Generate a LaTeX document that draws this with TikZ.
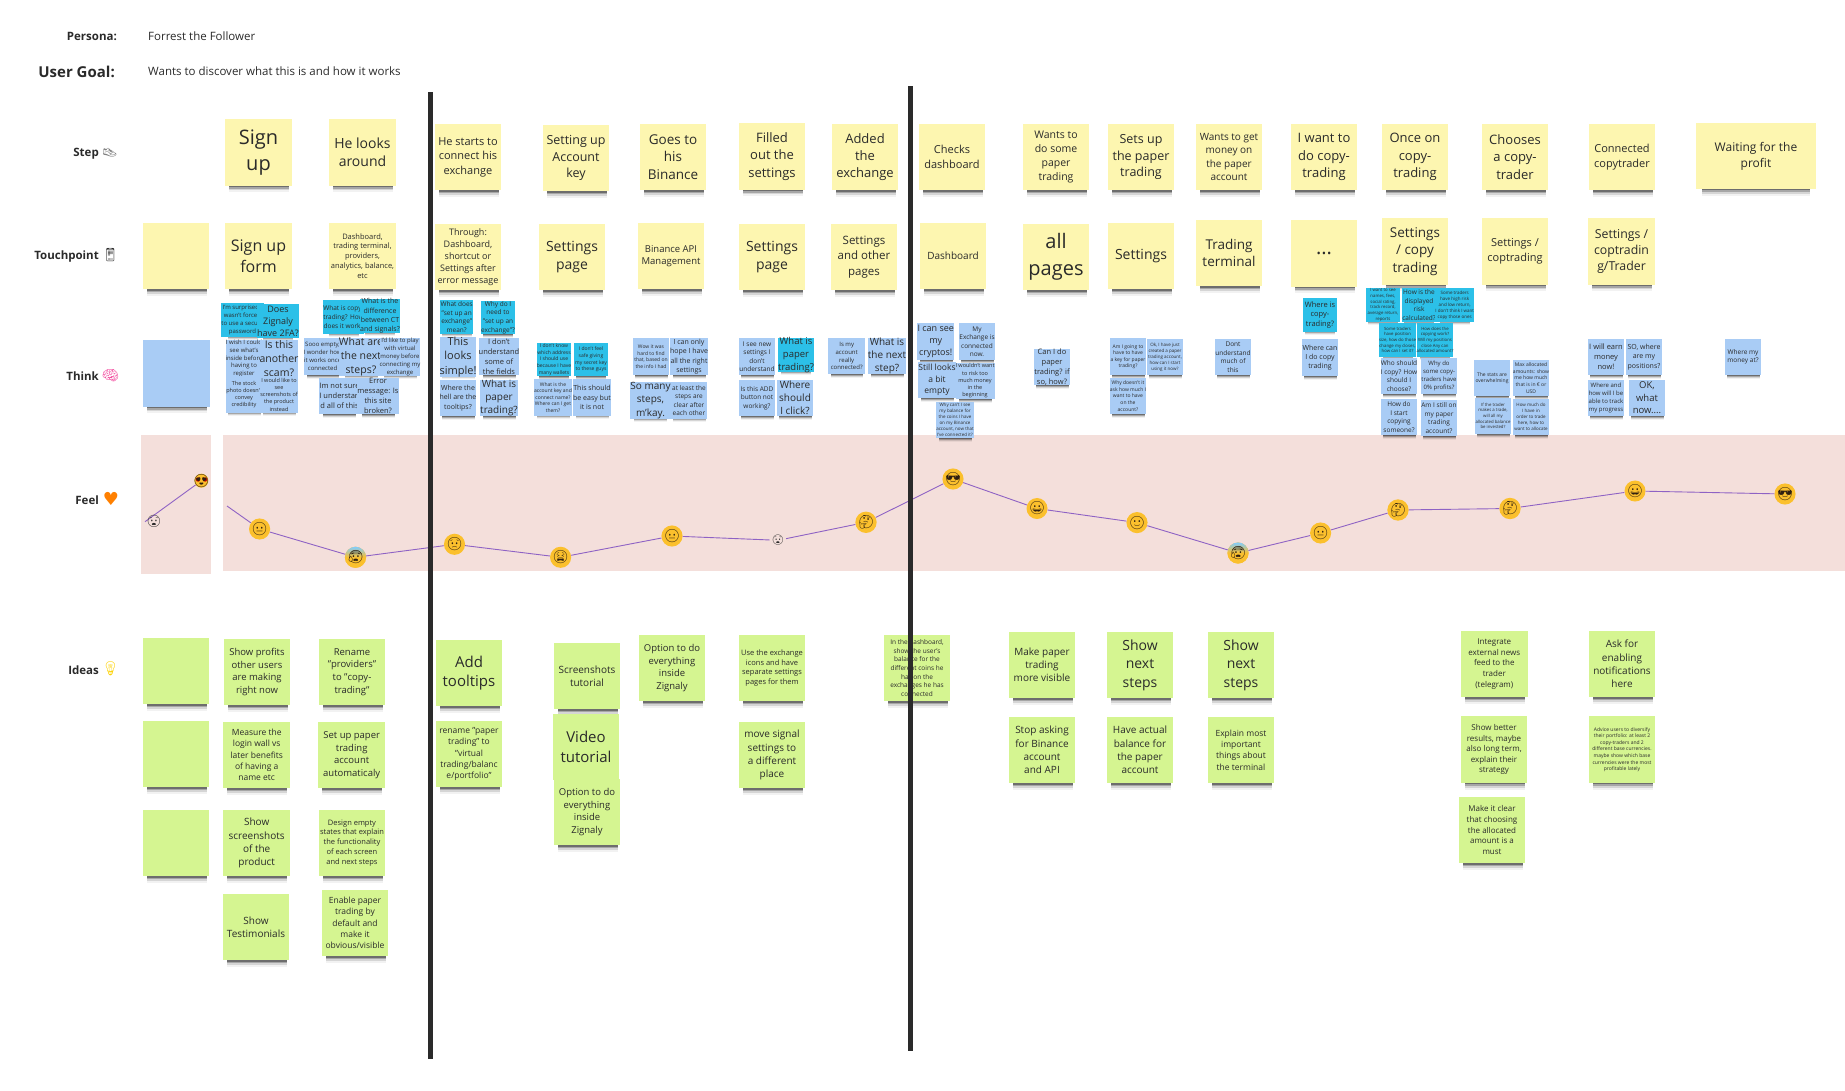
\documentclass[tikz,border=0pt]{standalone}
\usepackage{fontspec}
\setmainfont{Open Sans}
\newfontfamily\emojifont{Noto Emoji}
\newfontfamily\symfont{DejaVu Sans}
\definecolor{yel}{HTML}{FDF6B0}
\definecolor{blu}{HTML}{A9CCF5}
\definecolor{cya}{HTML}{2CC0E8}
\definecolor{lim}{HTML}{D5F591}
\definecolor{band}{HTML}{F4DFDB}
\definecolor{ink}{HTML}{2A2A2A}
\definecolor{moodline}{HTML}{8E62C4}
\definecolor{gold}{HTML}{FBC02D}
\newcommand\fsz[1]{\pgfmathsetmacro\lsk{#1*1.32}\fontsize{#1}{\lsk}\selectfont}
\tikzset{
  x=1pt,y=-1pt,
  stickynote/.style={inner sep=0pt,align=center,text=ink,anchor=center},
  yelnote/.style={stickynote,fill=yel},
  blunote/.style={stickynote,fill=blu},
  cyanote/.style={stickynote,fill=cya},
  limnote/.style={stickynote,fill=lim},
  rowlabel/.style={anchor=east,inner sep=0pt,font=\bfseries\fsz{11.5},text=ink},
  headtext/.style={anchor=west,inner sep=0pt,text=ink},
  rowicon/.style={anchor=center,inner sep=0pt},
  divider/.style={draw=ink,line width=4.5pt},
  moodpath/.style={draw=moodline,line width=0.9pt},
  moodface/.style={circle,inner sep=0pt,minimum size=14pt,fill=gold,text=black!75!brown,font=\emojifont\fsz{13}},
  moodbare/.style={circle,inner sep=0pt,minimum size=14pt,text=black!85,font=\emojifont\fsz{12}},
  moodcold/.style={moodface,top color=blue!40!cyan!50,bottom color=gold,middle color=gold},
}
\newcommand\stk[7]{%
  \foreach \k/\o in {.02/.34,.045/.22,.07/.12,.1/.05}{%
    \fill[black,opacity=\o] ({#3-#5*.44},{#4+#5*.5-1}) rectangle ({#3+#5*.46},{#4+#5*(.5+\k)});}%
  \node[#2,minimum width=#5pt,minimum height=#5pt,font=\fsz{#6}] (#1) at (#3,#4) {#7};}
\newcommand\Y[5]{\stk{#1}{yelnote}{#2}{#3}{66.5}{#4}{#5}}
\newcommand\G[5]{\stk{#1}{limnote}{#2}{#3}{66.5}{#4}{#5}}
\newcommand\B[5]{\stk{#1}{blunote}{#2}{#3}{36.5}{#4}{#5}}
\newcommand\C[5]{\stk{#1}{cyanote}{#2}{#3}{33.5}{#4}{#5}}
\begin{document}
\begin{tikzpicture}
\useasboundingbox (0,0) rectangle (1845,1090);
% header
\node[rowlabel,font=\bfseries\fsz{11.5}] (persona) at (117,36) {Persona:};
\node[rowlabel,font=\bfseries\fsz{15}] (usergoal) at (115,72) {User Goal:};
\node[headtext,font=\fsz{11.5}] (personaname) at (148,36) {Forrest the Follower};
\node[headtext,font=\fsz{11.5}] (goaltext) at (148,71.5) {Wants to discover what this is and how it works};
% row labels
\node[rowlabel] (lstep) at (99,153.5) {Step};
\node[rowlabel] (ltouch) at (99,257) {Touchpoint};
\node[rowlabel] (lthink) at (99,376) {Think};
\node[rowlabel] (lfeel) at (99,500.5) {Feel};
\node[rowlabel] (lideas) at (99,670.5) {Ideas};
\node[rowicon,font=\emojifont\fsz{13},text=gray] (istep) at (110,153) {👟};
\node[rowicon,font=\emojifont\fsz{13},text=ink] (itouch) at (110.5,255) {📱};
\node[rowicon,font=\emojifont\fsz{14},text=magenta!60!pink] (ithink) at (110.5,376) {🧠};
\node[rowicon,font=\symfont\fsz{18},text=orange] (ifeel) at (111,499) {♥};
\node[rowicon,font=\emojifont\fsz{14},text=yellow!70!orange] (iideas) at (110.5,669) {💡};
% feel bands
\fill[band] (141,435) rectangle (211,573.5);
\fill[band] (223,435) rectangle (1845,571);
% steps
\Y{s1}{258.5}{152.5}{20}{Sign\\up}
\Y{s2}{362.5}{152.5}{14}{He looks\\around}
\Y{s3}{468}{157}{11}{He starts to\\connect his\\exchange}
\Y{s4}{576}{158}{12.5}{Setting up\\Account\\key}
\Y{s5}{673}{157}{13.5}{Goes to\\his\\Binance}
\Y{s6}{772}{156.5}{13}{Filled\\out the\\settings}
\Y{s7}{865}{157}{13}{Added\\the\\exchange}
\Y{s8}{952}{157}{11}{Checks\\dashboard}
\Y{s9}{1056}{157}{10.5}{Wants to\\do some\\paper\\trading}
\Y{s10}{1141}{157}{12.5}{Sets up\\the paper\\trading}
\Y{s11}{1229}{157}{10}{Wants to get\\money on\\the paper\\account}
\Y{s12}{1324}{157}{13}{I want to\\do copy-\\trading}
\Y{s13}{1415}{157}{13}{Once on\\copy-\\trading}
\Y{s14}{1515}{157}{13}{Chooses\\a copy-\\trader}
\Y{s15}{1622}{157}{11}{Connected\\copytrader}
\foreach \k/\o in {.02/.34,.045/.22,.07/.12,.1/.05}{\fill[black,opacity=\o] (1702,188) rectangle (1810,{189+66.5*\k});}
\node[yelnote,minimum width=120pt,minimum height=66.5pt,font=\fsz{12}] (s16) at (1756,156) {Waiting for the\\profit};
% touchpoints
\Y{t0}{176}{256}{10}{}
\Y{t1}{258.5}{256}{16}{Sign up\\form}
\Y{t2}{362.5}{256}{7.5}{Dashboard,\\trading terminal,\\providers,\\analytics, balance,\\etc}
\Y{t3}{468}{257}{9}{Through:\\Dashboard,\\shortcut or\\Settings after\\error message}
\Y{t4}{572}{257}{14}{Settings\\page}
\Y{t5}{671}{256}{9.5}{Binance API\\Management}
\Y{t6}{772}{257}{14}{Settings\\page}
\Y{t7}{864}{257}{11.5}{Settings\\and other\\pages}
\Y{t8}{953}{256}{10}{Dashboard}
\Y{t9}{1056}{257}{20}{all\\pages}
\Y{t10}{1141}{256}{14}{Settings}
\Y{t11}{1229}{253}{13.5}{Trading\\terminal}
\Y{t12}{1324}{253.5}{20}{...}
\Y{t13}{1415}{251.5}{13.5}{Settings\\/ copy\\trading}
\Y{t14}{1515}{251.5}{11}{Settings /\\coptrading}
\Y{t15}{1621.5}{251.5}{12.3}{Settings /\\coptradin\\g/Trader}
% think
\stk{b0}{blunote}{176.5}{373}{67}{10}{}
\C{c1}{242.5}{320}{6}{I'm surprised I\\wasn't forced\\to use a secure\\password}
\C{c2}{278}{321}{9}{Does\\Zignaly\\have 2FA?}
\B{b1}{244}{358.5}{6}{I wish I could\\see what's\\inside before\\having to\\register}
\B{b2}{279}{358.5}{10.5}{Is this\\another\\scam?}
\B{b3}{244}{394.5}{5.5}{The stock\\photo doesn't\\convey\\credibility}
\B{b4}{279}{394.5}{5.5}{I would like to\\see\\screenshots of\\the product\\instead}
\C{c3}{343.5}{317}{6.5}{What is copy-\\trading? How\\does it work?}
\C{c4}{380}{316}{7}{What is the\\difference\\between CT\\and signals?}
\B{b5}{322.6}{356.7}{6}{Sooo empty,\\I wonder how\\it works once\\connected}
\B{b6}{361}{356.7}{10.5}{What are\\the next\\steps?}
\B{b7}{400}{356.7}{6}{I'd like to play\\with virtual\\money before\\connecting my\\exchange}
\B{b8}{339.5}{396}{7.5}{Im not sure\\I understan\\d all of this}
\B{b9}{378}{396}{7.5}{Error\\message: Is\\this site\\broken?}
\C{c5}{456.7}{317}{6.5}{What does\\"set up an\\exchange"\\mean?}
\C{c6}{498}{317.5}{6.5}{Why do I\\need to\\"set up an\\exchange"?}
\B{b10}{458}{356.7}{11}{This\\looks\\simple!}
\B{b11}{499}{356.7}{7.5}{I don't\\understand\\some of\\the fields}
\B{b12}{458}{398}{7}{Where the\\hell are the\\tooltips?}
\B{b13}{499}{398}{10}{What is\\paper\\trading?}
\C{c7}{554}{359.5}{5}{I don't know\\which address\\I should use\\because I have\\many wallets}
\C{c8}{591}{359.5}{5}{I don't feel\\safe giving\\my secret key\\to these guys}
\B{b14}{553}{397.5}{5}{What is the\\account key and\\connect name?\\Where can I get\\them?}
\B{b15}{592}{397.5}{7}{This should\\be easy but\\it is not}
\B{b16}{651}{356.7}{5}{Wow it was\\hard to find\\that, based on\\the info I had}
\B{b17}{689}{356.7}{7}{I can only\\hope I have\\all the right\\settings}
\B{b18}{650.5}{400.5}{10}{So many\\steps,\\m'kay.}
\B{b19}{689}{400.5}{6.5}{at least the\\steps are\\clear after\\each other}
\B{b20}{757}{356.7}{6.5}{I see new\\settings I\\don't\\understand}
\C{c9}{796}{355}{9.5}{What is\\paper\\trading?}
\B{b21}{757}{398}{6.5}{Is this ADD\\button not\\working?}
\B{b22}{795}{398}{10}{Where\\should\\I click?}
\B{b23}{846.7}{356}{6}{Is my\\account\\really\\connected?}
\B{b24}{887}{356}{10}{What is\\the next\\step?}
\B{b25}{935.7}{341.7}{9}{I can see\\my\\cryptos!}
\B{b26}{977}{341.7}{6.5}{My\\Exchange is\\connected\\now.}
\B{b27}{937}{380}{8.5}{Still looks\\a bit\\empty}
\B{b28}{975}{381}{5.5}{I wouldn't want\\to risk too\\much money\\in the\\beginning}
\B{b29}{955}{420}{4.5}{Why can't I see\\my balance for\\the coins I have\\on my Binance\\account, now that\\I've connected it?}
\B{b30}{1052}{367}{7.5}{Can I do\\paper\\trading? if\\so, how?}
\B{b31}{1128}{356.7}{5}{Am I going to\\have to have\\a key for paper\\trading?}
\B{b32}{1165}{357}{4.5}{Ok, I have just\\created a paper\\trading account,\\how can I start\\using it now?}
\B{b33}{1128}{396}{5}{Why doesn't it\\ask how much I\\want to have\\on the\\account?}
\B{b34}{1233}{357}{6.5}{Dont\\understand\\much of\\this}
\C{c10}{1320}{315}{7.5}{Where is\\copy-\\trading?}
\B{b35}{1320}{357.7}{7}{Where can\\I do copy\\trading}
\C{c11}{1383}{305}{4.3}{I want to see\\names, fees,\\social rating,\\track record,\\average return,\\reports}
\C{c12}{1419}{305}{6.5}{How is the\\displayed\\risk\\calculated?}
\C{c13}{1454.7}{305}{4.5}{Some traders\\have high risk\\and low return,\\I don't think I want\\copy those ones}
\C{c14}{1397.5}{340}{4.3}{Some traders\\have position\\size, how do those\\change my closes,\\how can I set it?}
\C{c15}{1435}{340}{4.3}{How does the\\copying work?\\Will my positions\\close Any can\\allocated amount?}
\B{b36}{1399}{376}{6.5}{Who should\\I copy? How\\should I\\choose?}
\B{b37}{1439}{376}{6}{Why do\\some copy-\\traders have\\0\% profits?}
\B{b38}{1399}{417}{6.5}{How do\\I start\\copying\\someone?}
\B{b39}{1439}{418}{6.5}{Am I still on\\my paper\\trading\\account?}
\B{b40}{1492}{378}{5}{The stats are\\overwhelming}
\B{b41}{1531}{378}{5}{Max allocated\\amounts: show\\me how much\\that is in € or\\USD}
\B{b42}{1493}{416}{4.3}{If the trader\\makes a trade,\\will all my\\allocated balance\\be invested?}
\B{b43}{1531}{417}{4.5}{How much do\\I have in\\order to trade\\here, how to\\want to allocate}
\B{b44}{1606}{357}{7.5}{I will earn\\money\\now!}
\B{b45}{1644}{357}{7}{SO, where\\are my\\positions?}
\B{b46}{1606}{398}{6}{Where and\\how will I be\\able to track\\my progress}
\B{b47}{1647}{398}{9.5}{OK,\\what\\now....}
\B{b48}{1743}{357}{6.5}{Where my\\money at?}
% feel curve
\coordinate (m0) at (145,521.7);
\node[moodbare] (f1) at (154,521.7) {};
\node[moodface] (f2) at (201.4,480.7) {};
\draw[moodpath] (m0) -- (f2);
\node[moodbare] at (f1) {😧};
\fill[red!80!black] (198,479.5) circle (2.2) (205,479.5) circle (2.2);
\node[moodface,fill=none] at (f2) {😍};
\coordinate (m1) at (227,506);
\node[moodface] (f3) at (259.6,529) {😐};
\node[moodcold] (f4) at (355.5,557.3) {😰};
\node[moodface] (f5) at (454.5,544.3) {😟};
\node[moodface] (f6) at (560.6,557.3) {😫};
\node[moodface] (f7) at (672,536) {😐};
\node[moodbare,minimum size=10pt,font=\emojifont\fsz{10}] (f8) at (778,540.3) {😧};
\node[moodface] (f9) at (866,522.3) {🤔};
\node[moodface] (f10) at (953,479) {😎};
\node[moodface] (f11) at (1037,508.5) {😀};
\node[moodface] (f12) at (1137,522.6) {🙂};
\node[moodcold] (f13) at (1238,553) {😰};
\node[moodface] (f14) at (1320.6,533) {😐};
\node[moodface] (f15) at (1398,510) {🤔};
\node[moodface] (f16) at (1510,508.5) {🤔};
\node[moodface] (f17) at (1635,491) {😀};
\node[moodface] (f18) at (1785,494) {😎};
\draw[moodpath] (m1) -- (f3) -- (f4) -- (f5) -- (f6) -- (f7) -- (f8) -- (f9) -- (f10) -- (f11) -- (f12) -- (f13) -- (f14) -- (f15) -- (f16) -- (f17) -- (f18);
% ideas
\G{g0}{176}{671}{10}{}
\G{g1}{176}{754}{10}{}
\G{g2}{176}{843}{10}{}
\G{i1}{257}{672}{9.5}{Show profits\\other users\\are making\\right now}
\G{i2}{352}{672}{9.5}{Rename\\"providers"\\to "copy-\\trading"}
\G{i3}{256.7}{755}{8.5}{Measure the\\login wall vs\\later benefits\\of having a\\name etc}
\G{i4}{351.7}{755}{9.5}{Set up paper\\trading\\account\\automaticaly}
\G{i5}{256.7}{843}{10}{Show\\screenshots\\of the\\product}
\G{i6}{352}{843}{7.5}{Design empty\\states that explain\\the functionality\\of each screen\\and next steps}
\G{i7}{256}{927}{10}{Show\\Testimonials}
\G{i8}{355}{923}{8.5}{Enable paper\\trading by\\default and\\make it\\obvious/visible}
\G{i9}{469}{673}{15}{Add\\tooltips}
\G{i10}{469}{754}{8.5}{rename "paper\\trading" to\\"virtual\\trading/balanc\\e/portfolio"}
\G{i11}{587}{676}{10}{Screenshots\\tutorial}
\G{i12}{586}{747}{15}{Video\\tutorial}
\G{i13}{587}{812}{9.5}{Option to do\\everything\\inside\\Zignaly}
\G{i14}{672}{668}{9.5}{Option to do\\everything\\inside\\Zignaly}
\G{i15}{772}{668}{7.5}{Use the exchange\\icons and have\\separate settings\\pages for them}
\G{i16}{772}{755}{10}{move signal\\settings to\\a different\\place}
\G{i17}{917}{668}{6.5}{In the dashboard,\\show the user's\\balance for the\\different coins he\\has on the\\exchanges he has\\connected}
\G{i18}{1042}{665}{10}{Make paper\\trading\\more visible}
\G{i19}{1042}{750}{10}{Stop asking\\for Binance\\account\\and API}
\G{i20}{1140}{665}{14}{Show\\next\\steps}
\G{i21}{1140}{750}{10}{Have actual\\balance for\\the paper\\account}
\G{i22}{1241}{665}{14}{Show\\next\\steps}
\G{i23}{1241}{750}{8.5}{Explain most\\important\\things about\\the terminal}
\G{i24}{1494.3}{664}{8}{Integrate\\external news\\feed to the\\trader\\(telegram)}
\G{i25}{1622}{664}{10}{Ask for\\enabling\\notifications\\here}
\G{i26}{1494}{749.6}{8}{Show better\\results, maybe\\also long term,\\explain their\\strategy}
\G{i27}{1622}{749.6}{5}{Advice users to diversify\\their portfolio: at least 2\\copy-traders and 2\\different base currencies.\\maybe show which base\\currencies were the most\\profitable lately}
\G{i28}{1492}{830}{8}{Make it clear\\that choosing\\the allocated\\amount is a\\must}
% phase dividers
\coordinate (d1a) at (430.5,92);
\coordinate (d1b) at (430.5,1059);
\coordinate (d2a) at (910.5,86);
\coordinate (d2b) at (910.5,1051);
\draw[divider] (d1a) -- (d1b);
\draw[divider] (d2a) -- (d2b);
\end{tikzpicture}
\end{document}
